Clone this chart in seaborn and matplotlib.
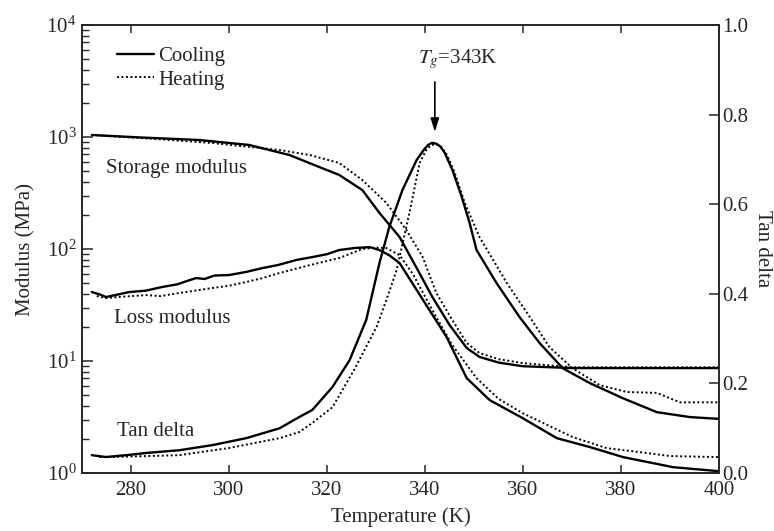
import numpy as np
import matplotlib
matplotlib.use("Agg")
import matplotlib.pyplot as plt
from matplotlib.lines import Line2D
from matplotlib.ticker import FormatStrFormatter
import seaborn as sns

# ---------------- data ----------------
# Storage modulus (MPa)
T_sto_cool = [272, 282.0, 293.9, 304.1, 312.3, 318.4, 322.5, 327.2, 330.7, 334.8, 338.3, 341.5, 345.0, 348.5, 351.1, 355.0, 359.9, 370.1, 385.0, 400]
E_sto_cool = [1042, 990, 940, 849, 691, 540, 458, 336, 210, 128, 67.6, 37.3, 21.0, 13.1, 10.9, 9.7, 9.0, 8.66, 8.66, 8.66]
T_sto_heat = [272, 285.0, 296.6, 310.3, 316.5, 322.5, 327.2, 332.1, 336.2, 339.5, 342.3, 345.5, 348.5, 351.1, 355.0, 359.9, 370.1, 385.0, 400]
E_sto_heat = [1042, 960, 884, 765, 690, 586, 413, 258, 148, 85, 40.5, 23.5, 14.5, 11.8, 10.4, 9.6, 8.8, 8.8, 8.8]

# Loss modulus (MPa)
T_los_cool = [272, 273.5, 274.9, 277.0, 279.6, 283.0, 286.3, 289.5, 291.5, 293.3, 295.0, 297.0, 300.0, 303.5, 306.8, 310.0, 313.7, 317.0, 320.0, 322.5,
              325.5, 328.7, 330.7, 332.7, 334.8, 337.4, 340.9, 344.4, 348.5, 353.2, 359.9, 366.9, 373.6, 380.4, 390.6, 400]
E_los_cool = [41.3, 39.5, 37.3, 39.0, 41.3, 42.5, 45.8, 48.5, 52.0, 55.1, 54.0, 58.0, 58.6, 62.5, 67.6, 72.0, 79.8, 84.8, 90.0, 98.0,
              102.0, 104.0, 98.0, 88.0, 75.0, 49.7, 28.5, 16.4, 7.05, 4.48, 3.10, 2.05, 1.71, 1.39, 1.13, 1.04]
T_los_heat = [273.0, 274.9, 278.0, 283.1, 286.0, 289.8, 293.0, 296.6, 300.0, 303.5, 306.8, 310.3, 316.0, 322.5, 327.2, 330.0, 332.1,
              334.8, 337.5, 341.5, 345.5, 350.5, 355.0, 359.9, 370.1, 377.1, 383.8, 390.0, 400]
E_los_heat = [38.0, 36.5, 37.5, 38.8, 38.0, 40.5, 42.5, 44.9, 47.0, 50.8, 55.0, 61.1, 71.0, 83.2, 100.0, 103.0, 102.0,
              88.3, 60.0, 28.5, 14.0, 7.05, 4.6, 3.43, 2.10, 1.67, 1.54, 1.42, 1.39]

# Tan delta (right axis)
T_tan_cool = [272, 274.9, 279.0, 283.1, 289.8, 296.6, 303.5, 310.3, 314.3, 317.0, 321.1, 324.6, 328.0, 330.7, 332.7, 335.4, 338.3, 339.8, 340.6, 341.4, 342.3,
              343.1, 344.0, 345.6, 347.5, 349.1, 350.5, 354.6, 359.3, 363.4, 368.1, 373.6, 380.4, 387.3, 394.1, 400]
D_tan_cool = [0.040, 0.036, 0.040, 0.045, 0.051, 0.0625, 0.078, 0.100, 0.125, 0.141, 0.192, 0.252, 0.342, 0.469, 0.549, 0.632, 0.699, 0.722, 0.732, 0.737, 0.735,
              0.729, 0.715, 0.676, 0.616, 0.558, 0.498, 0.424, 0.348, 0.290, 0.234, 0.201, 0.167, 0.136, 0.125, 0.121]
T_tan_heat = [273.5, 276.1, 283.0, 289.8, 300.0, 310.3, 314.3, 317.0, 321.1, 325.5, 330.1, 332.1, 334.2, 336.8, 338.9, 340.3, 341.3, 342.3,
              343.3, 344.5, 346.0, 348.1, 351.1, 356.7, 361.4, 365.4, 370.1, 375.7, 381.2, 387.3, 392.0, 400]
D_tan_heat = [0.036, 0.036, 0.038, 0.040, 0.056, 0.078, 0.0915, 0.112, 0.147, 0.230, 0.326, 0.386, 0.453, 0.580, 0.692, 0.722, 0.732, 0.734,
              0.728, 0.710, 0.672, 0.603, 0.527, 0.424, 0.348, 0.281, 0.234, 0.196, 0.181, 0.179, 0.158, 0.158]

series_labels = ["Cooling", "Heating"]
curve_labels = ["Storage modulus", "Loss modulus", "Tan delta"]
x_ticks = [280, 300, 320, 340, 360, 380, 400]
tan_ticks = [0.0, 0.2, 0.4, 0.6, 0.8, 1.0]

# ---------------- style ----------------
sns.set_style("ticks")
plt.rcParams["font.family"] = ["Liberation Serif", "DejaVu Serif"]
plt.rcParams["mathtext.fontset"] = "stix"
plt.rcParams["xtick.direction"] = "in"
plt.rcParams["ytick.direction"] = "in"
plt.rcParams["axes.linewidth"] = 1.2
FS = 15

fig = plt.figure(figsize=(7.74, 5.31), dpi=100)
ax = fig.add_axes([0.106, 0.109, 0.823, 0.844])
ax2 = ax.twinx()

solid = dict(color="black", linewidth=1.7, linestyle="-")
dotted = dict(color="black", linewidth=1.4, linestyle=(0, (1, 1.3)))

sns.lineplot(x=T_sto_cool, y=E_sto_cool, ax=ax, **solid)
sns.lineplot(x=T_sto_heat, y=E_sto_heat, ax=ax, **dotted)
sns.lineplot(x=T_los_cool, y=E_los_cool, ax=ax, **solid)
sns.lineplot(x=T_los_heat, y=E_los_heat, ax=ax, **dotted)
sns.lineplot(x=T_tan_cool, y=D_tan_cool, ax=ax2, **solid)
sns.lineplot(x=T_tan_heat, y=D_tan_heat, ax=ax2, **dotted)

ax.set_yscale("log")
ax.set_ylim(1, 1e4)
ax.set_xlim(270, 400)
ax.set_xticks(x_ticks)
ax.set_xticklabels([str(t) for t in x_ticks])
ax2.set_ylim(0, 1)
ax2.set_yticks(tan_ticks)
ax2.yaxis.set_major_formatter(FormatStrFormatter("%.1f"))

ax.tick_params(axis="x", which="major", top=True, bottom=True, length=6, width=1.1, labelsize=FS, pad=6)
ax.tick_params(axis="y", which="major", left=True, right=False, length=8, width=1.1, labelsize=FS, pad=4)
ax.tick_params(axis="y", which="minor", left=True, right=False, length=5, width=1.0)
ax2.tick_params(axis="y", which="major", right=True, length=7, width=1.1, labelsize=FS, pad=2)
ax2.tick_params(axis="y", which="minor", right=False)

ax.set_xlabel("Temperature (K)", fontsize=FS, labelpad=5)
ax.set_ylabel("Modulus (MPa)", fontsize=FS, labelpad=8)
ax2.set_ylabel("Tan delta", fontsize=FS, rotation=270, labelpad=17)

for s in ["left", "right", "top", "bottom"]:
    ax.spines[s].set_visible(True)
    ax2.spines[s].set_visible(True)

# curve labels
ax.text(274.9, 520, curve_labels[0], fontsize=FS, ha="left", va="center")
ax.text(276.5, 24, curve_labels[1], fontsize=FS, ha="left", va="center")
ax.text(277.1, 2.35, curve_labels[2], fontsize=FS, ha="left", va="center")

# Tg annotation
ax.text(346.8, 5000, r"$T_g$=343K", fontsize=FS, ha="center", va="center")
ax.annotate("", xy=(342, 1110), xytext=(342, 3100),
            arrowprops=dict(arrowstyle="-|>,head_length=0.8,head_width=0.25", color="black", lw=1.2, shrinkA=0, shrinkB=0))

# legend
handles = [Line2D([0], [0], **solid), Line2D([0], [0], **dotted)]
ax.legend(handles, series_labels, loc="upper left", bbox_to_anchor=(0.035, 0.98), frameon=False,
          fontsize=FS, handlelength=1.8, handletextpad=0.2, labelspacing=0.2, borderaxespad=0.2)

fig.savefig("out.png", dpi=100)
